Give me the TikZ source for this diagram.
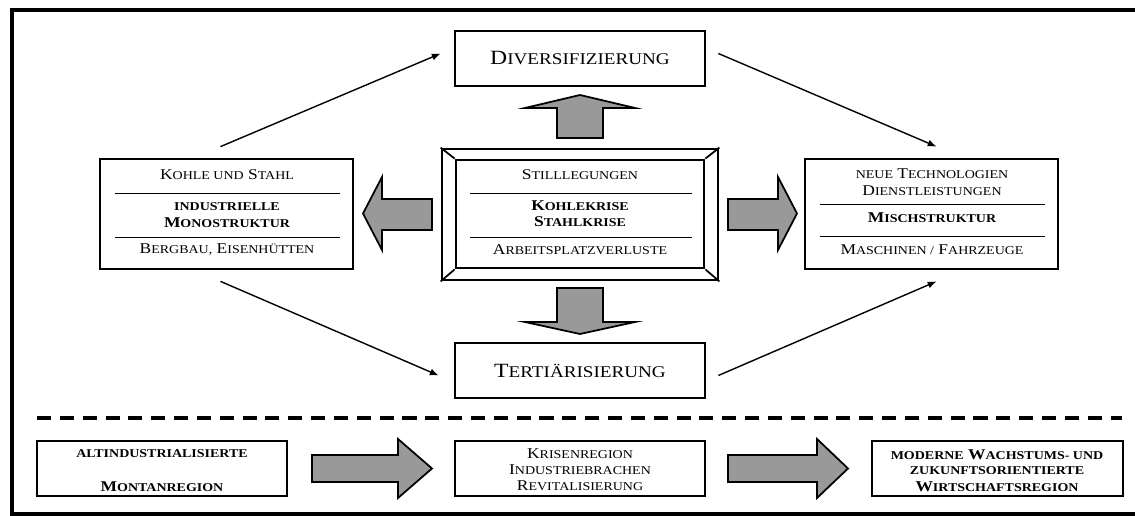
\documentclass[tikz,border=0pt]{standalone}
\usepackage{fontspec}
\setmainfont{Liberation Serif}[FakeStretch=1.17]
\usetikzlibrary{arrows.meta}
\newcommand{\sm}[1]{{\fontsize{6.8}{7.5}\selectfont #1}}
\newcommand{\smbig}[1]{{\fontsize{9.3}{10}\selectfont #1}}
\tikzset{
  box/.style={draw, line width=1.6pt, minimum width=5cm, minimum height=1.1cm, inner sep=0pt},
  txt/.style={inner sep=0pt, font=\fontsize{8.5}{9}\selectfont},
  btxt/.style={inner sep=0pt, font=\fontsize{8.5}{9}\selectfont\bfseries},
  bigtxt/.style={inner sep=0pt, font=\fontsize{11.5}{12}\selectfont},
  rule/.style={line width=0.5pt},
  blockarrow/.style={draw, line width=1pt, fill=black!40, line join=miter},
  link/.style={->, line width=0.8pt},
}
\begin{document}
\begin{tikzpicture}[x=0.02cm, y=-0.02cm, >={Latex[length=5pt,width=4pt]}]
\useasboundingbox (0,0) rectangle (1135,516);
%rahmen
\draw[line width=2pt] (12,10) rectangle (1142,514);
%boxen oben
\node[box] (div) at (580,58.5) {};
\node[bigtxt] (divtxt) at (580,58) {D\smbig{IVERSIFIZIERUNG}};
\node[box] (tert) at (580,370.5) {};
\node[bigtxt] (terttxt) at (580,371) {T\smbig{ERTIÄRISIERUNG}};
%mitte
\node[box, minimum width=5.52cm, minimum height=2.62cm] (krise) at (580,214.5) {};
\node[box, minimum width=4.96cm, minimum height=2.16cm] (kriseinnen) at (580,214) {};
\foreach \c in {north west, north east, south west, south east}
  \draw[line width=1pt] (krise.\c) -- (kriseinnen.\c);
\node[txt] (still) at (580,175) {S\sm{TILLLEGUNGEN}};
\draw[rule] (470,193) -- (692,193);
\node[btxt] (kohlekr) at (580,206) {K\sm{OHLEKRISE}};
\node[btxt] (stahlkr) at (580,222) {S\sm{TAHLKRISE}};
\draw[rule] (470,237) -- (692,237);
\node[txt] (arbeit) at (580,250) {A\sm{RBEITSPLATZVERLUSTE}};
%links
\node[box, minimum width=5.06cm, minimum height=2.2cm] (mono) at (226.5,214) {};
\node[txt] (kohle) at (227,175) {K\sm{OHLE UND} S\sm{TAHL}};
\draw[rule] (115,193) -- (340,193);
\node[btxt] (indu) at (227,207) {\sm{INDUSTRIELLE}};
\node[btxt] (monotxt) at (227,223) {M\sm{ONOSTRUKTUR}};
\draw[rule] (115,237) -- (340,237);
\node[txt] (berg) at (227,250) {B\sm{ERGBAU,} E\sm{ISENHÜTTEN}};
%rechts
\node[box, minimum width=5.06cm, minimum height=2.2cm] (misch) at (931.5,214) {};
\node[txt] (neue) at (932,174) {\sm{NEUE} T\sm{ECHNOLOGIEN}};
\node[txt] (dienst) at (932,191) {D\sm{IENSTLEISTUNGEN}};
\draw[rule] (820,204) -- (1045,204);
\node[btxt] (mischtxt) at (932,218) {M\sm{ISCHSTRUKTUR}};
\draw[rule] (820,236) -- (1045,236);
\node[txt] (masch) at (932,250) {M\sm{ASCHINEN /} F\sm{AHRZEUGE}};
%blockpfeile
\draw[blockarrow] (557,138) -- (557,108) -- (525,108) -- (580,95) -- (635,108) -- (603,108) -- (603,138) -- cycle;
\draw[blockarrow] (557,288) -- (557,322) -- (525,322) -- (580,334) -- (635,322) -- (603,322) -- (603,288) -- cycle;
\draw[blockarrow] (432,199) -- (382,199) -- (382,177) -- (363,213.5) -- (382,250) -- (382,230) -- (432,230) -- cycle;
\draw[blockarrow] (728,199) -- (778,199) -- (778,177) -- (797,213.5) -- (778,250) -- (778,230) -- (728,230) -- cycle;
%duenne pfeile
\draw[link] ([shift={(-6,-11)}]mono.north) -- ([shift={(-13,-5)}]div.west);
\draw[link] ([shift={(12,-5)}]div.east) -- ([shift={(5,-11)}]misch.north);
\draw[link] ([shift={(-6,11)}]mono.south) -- ([shift={(-15,5)}]tert.west);
\draw[link] ([shift={(12,5)}]tert.east) -- ([shift={(5,11)}]misch.south);
%trennlinie
\draw[line width=2pt, dash pattern=on 8pt off 5pt] (37,418) -- (1122,418);
%untere reihe
\node[box] (alt) at (162,468.5) {};
\node[btxt] (alt1) at (162,454) {\sm{ALTINDUSTRIALISIERTE}};
\node[btxt] (alt2) at (162,487) {M\sm{ONTANREGION}};
\node[box] (krisreg) at (580,468.5) {};
\node[txt] (kr1) at (580,454) {K\sm{RISENREGION}};
\node[txt] (kr2) at (580,470) {I\sm{NDUSTRIEBRACHEN}};
\node[txt] (kr3) at (580,486) {R\sm{EVITALISIERUNG}};
\node[box, minimum width=5.02cm] (modern) at (997.5,468.5) {};
\node[btxt] (mo1) at (997,455) {\sm{MODERNE} W\sm{ACHSTUMS- UND}};
\node[btxt] (mo2) at (997,471) {\sm{ZUKUNFTSORIENTIERTE}};
\node[btxt] (mo3) at (997,487) {W\sm{IRTSCHAFTSREGION}};
\draw[blockarrow] (312,455) -- (398,455) -- (398,439) -- (432,468.5) -- (398,498) -- (398,482) -- (312,482) -- cycle;
\draw[blockarrow] (728,455) -- (817,455) -- (817,439) -- (848,468.5) -- (817,498) -- (817,482) -- (728,482) -- cycle;
\end{tikzpicture}
\end{document}
